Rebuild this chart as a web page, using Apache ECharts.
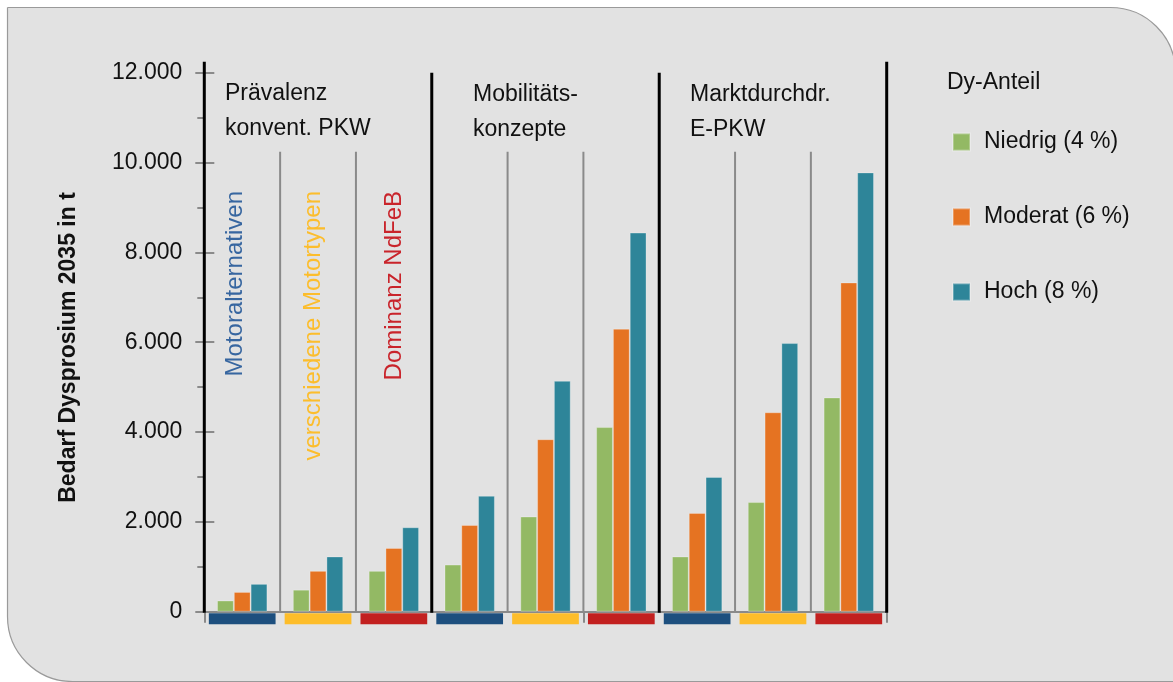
<!DOCTYPE html>
<html>
<head>
<meta charset="utf-8">
<style>
  html, body { margin: 0; padding: 0; background: #ffffff; }
  #chart { width: 1173px; height: 682px; }
</style>
<script src="https://cdn.jsdelivr.net/npm/echarts@6/dist/echarts.min.js"></script>
</head>
<body>
<div id="chart"></div>
<script>
// ---------- data ----------
const scenarios = ['Prävalenz\nkonvent. PKW', 'Mobilitäts-\nkonzepte', 'Marktdurchdr.\nE-PKW'];
const variants = ['Motoralternativen', 'verschiedene Motortypen', 'Dominanz NdFeB'];
const categories = [];
scenarios.forEach(s => variants.forEach(v => categories.push(s.replace('\n', ' ') + ' – ' + v)));

const seriesNames = ['Niedrig (4 %)', 'Moderat (6 %)', 'Hoch (8 %)'];
const niedrig = [250, 490, 910, 1050, 2120, 4110, 1230, 2440, 4770];
const moderat = [440, 910, 1420, 1930, 3840, 6300, 2200, 4440, 7330];
const hoch    = [620, 1230, 1880, 2580, 5140, 8440, 3000, 5980, 9780];

const yTicks = [0, 2000, 4000, 6000, 8000, 10000, 12000];
const yAxisTitle = 'Bedarf Dysprosium 2035 in t';
const legendTitle = 'Dy-Anteil';

// divider lines between categories (boundary index, top value, group edge?)
const dividerTop = [12245, 10240, 10240, 12000, 10240, 10240, 12000, 10240, 10240, 12245];
const dividerGroupEdge = [1, 0, 0, 1, 0, 0, 1, 0, 0, 1];
// strip under each category marks its variant (0,1,2)
const stripVariant = [0, 1, 2, 0, 1, 2, 0, 1, 2];

// ---------- styles ----------
const FONT = "'Liberation Sans', Arial, sans-serif";
const barColors = ['#93b964', '#e57322', '#2e8599'];
const variantColors = ['#1d4f7e', '#fdbd2a', '#c2201f'];
const variantTextColors = ['#3766a0', '#fcbd2c', '#c9242b'];
const GRAY = '#8a8a8a';

function fmt(v) {
  return String(v).replace(/\B(?=(\d{3})+(?!\d))/g, '.');
}

const chart = echarts.init(document.getElementById('chart'), null, { renderer: 'canvas' });

const dividerData = dividerTop.map((t, i) => [i, t, dividerGroupEdge[i]]);
const stripData = stripVariant.map((v, i) => [i, 0, v]);

const barSeries = [niedrig, moderat, hoch].map((arr, k) => ({
  name: seriesNames[k],
  type: 'bar',
  data: arr,
  barWidth: 16.8,
  barGap: '0%',
  itemStyle: { color: barColors[k], borderColor: 'rgba(255,255,255,0.28)', borderWidth: 1 },
  z: 3
}));

const option = {
  backgroundColor: '#ffffff',
  animation: false,
  textStyle: { fontFamily: FONT },
  grid: { left: 204.3, right: 286.3, top: 72.7, bottom: 70.3, containLabel: false },
  legend: {
    orient: 'vertical',
    left: 952,
    top: 126.5,
    padding: 0,
    itemWidth: 17,
    itemHeight: 17,
    itemGap: 44,
    icon: 'rect',
    data: seriesNames,
    textStyle: { fontFamily: FONT, fontSize: 23, color: '#111', lineHeight: 22, padding: [9, 0, 0, 9] }
  },
  xAxis: [
    {
      type: 'category',
      data: categories,
      boundaryGap: true,
      axisLine: { show: true, lineStyle: { color: GRAY, width: 2 } },
      axisTick: { show: true, length: 11, lineStyle: { color: GRAY, width: 2 } },
      axisLabel: { show: false },
      splitLine: { show: false }
    },
    {
      type: 'value',
      min: 0, max: 9,
      show: false
    }
  ],
  yAxis: [
    {
      type: 'value',
      min: 0, max: 12000, interval: 2000,
      axisLine: { show: false },
      axisTick: { show: true, length: 9, lineStyle: { color: GRAY, width: 2 } },
      minorTick: { show: true, splitNumber: 2, length: 7, lineStyle: { color: GRAY, width: 2 } },
      splitLine: { show: false },
      axisLabel: {
        margin: 22, fontSize: 23, color: '#111', fontFamily: FONT,
        formatter: v => (yTicks.indexOf(v) >= 0 ? fmt(v) : '')
      }
    },
    {
      type: 'value',
      min: 0, max: 12000, interval: 2000,
      position: 'left',
      axisLine: { show: false },
      axisTick: { show: true, inside: true, length: 10, lineStyle: { color: GRAY, width: 2 } },
      axisLabel: { show: false },
      splitLine: { show: false }
    }
  ],
  series: barSeries.concat([
    {
      name: 'dividers',
      type: 'custom',
      xAxisIndex: 1,
      yAxisIndex: 0,
      clip: false,
      silent: true,
      z: 4,
      data: dividerData,
      renderItem: function (params, api) {
        const p0 = api.coord([api.value(0), 0]);
        const p1 = api.coord([api.value(0), api.value(1)]);
        const edge = api.value(2) === 1;
        return {
          type: 'line',
          shape: { x1: p0[0], y1: p0[1] + (edge ? 1 : 0), x2: p1[0], y2: p1[1] },
          style: { stroke: edge ? '#000000' : GRAY, lineWidth: edge ? 3 : 2 }
        };
      }
    },
    {
      name: 'strips',
      type: 'custom',
      xAxisIndex: 1,
      yAxisIndex: 0,
      clip: false,
      silent: true,
      z: 4,
      data: stripData,
      renderItem: function (params, api) {
        const i = api.value(0);
        const a = api.coord([i + 0.5 - 0.44, 0]);
        const b = api.coord([i + 0.5 + 0.44, 0]);
        return {
          type: 'rect',
          shape: { x: a[0], y: a[1] + 1.5, width: b[0] - a[0], height: 11 },
          style: { fill: variantColors[api.value(2)] }
        };
      }
    }
  ]),
  graphic: [
    {
      type: 'rect', z: -100, silent: true,
      shape: { x: 7.5, y: 7.5, width: 1168, height: 674, r: [0, 65, 0, 65] },
      style: { fill: '#e2e2e2', stroke: '#9a9a9a', lineWidth: 1.2 }
    },
    {
      type: 'text', z: 10, x: 69, y: 347.5, rotation: Math.PI / 2,
      style: { text: yAxisTitle, font: 'bold 23px ' + FONT, fill: '#111', textAlign: 'center', textVerticalAlign: 'middle' }
    },
    {
      type: 'text', z: 10, x: 947, y: 82.5,
      style: { text: legendTitle, font: '23px ' + FONT, fill: '#111', textAlign: 'left', textVerticalAlign: 'middle' }
    },
    {
      type: 'text', z: 10, x: 225, y: 76.5,
      style: { text: scenarios[0], font: '23px ' + FONT, fill: '#111', lineHeight: 35, textAlign: 'left', textVerticalAlign: 'top' }
    },
    {
      type: 'text', z: 10, x: 473, y: 77.5,
      style: { text: scenarios[1], font: '23px ' + FONT, fill: '#111', lineHeight: 35, textAlign: 'left', textVerticalAlign: 'top' }
    },
    {
      type: 'text', z: 10, x: 690, y: 77.5,
      style: { text: scenarios[2], font: '23px ' + FONT, fill: '#111', lineHeight: 35, textAlign: 'left', textVerticalAlign: 'top' }
    },
    {
      type: 'text', z: 10, x: 235.5, y: 191, rotation: Math.PI / 2,
      style: { text: variants[0], font: '24px ' + FONT, fill: variantTextColors[0], textAlign: 'right', textVerticalAlign: 'middle' }
    },
    {
      type: 'text', z: 10, x: 313.5, y: 191, rotation: Math.PI / 2,
      style: { text: variants[1], font: '24px ' + FONT, fill: variantTextColors[1], textAlign: 'right', textVerticalAlign: 'middle' }
    },
    {
      type: 'text', z: 10, x: 394.5, y: 191, rotation: Math.PI / 2,
      style: { text: variants[2], font: '24px ' + FONT, fill: variantTextColors[2], textAlign: 'right', textVerticalAlign: 'middle' }
    }
  ]
};

chart.setOption(option);
</script>
</body>
</html>
